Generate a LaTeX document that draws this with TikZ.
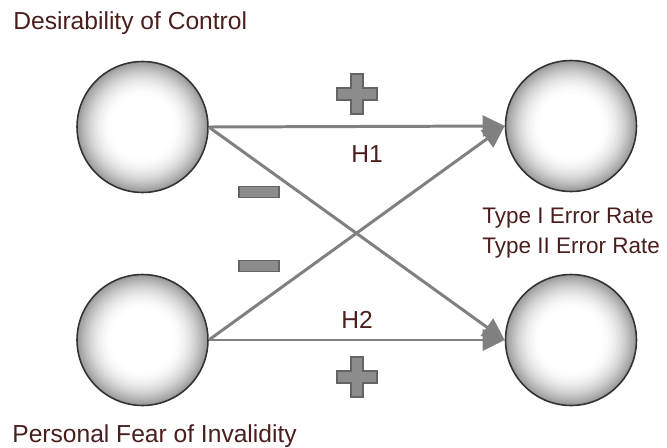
\documentclass[tikz,border=0pt]{standalone}
\usepackage{fontspec}
\setmainfont{Liberation Sans}
\usetikzlibrary{arrows.meta}

\definecolor{labeltext}{RGB}{75,30,30}
\definecolor{linkgray}{RGB}{128,128,128}
\definecolor{signfill}{RGB}{140,140,140}
\definecolor{signedge}{RGB}{100,100,100}

\tikzset{
  construct/.style={circle, draw=black!80, line width=0.9pt,
    minimum size=2.62cm, inner sep=0pt,
    path picture={
      \foreach \t [evaluate=\t as \g using {40*((\t-0.45)/0.55)^2}]
        in {1.0,0.975,...,0.44}
        \fill[black!\g] (path picture bounding box.center) circle (\t*1.31cm);
    }},
  link/.style={draw=linkgray, line width=1.7pt,
    -{Triangle[length=0.44cm,width=0.42cm]}},
  label/.style={text=labeltext, font=\fontsize{14}{16}\selectfont, inner sep=0pt},
  ratelabel/.style={label, font=\fontsize{12.8}{15}\selectfont},
  sign/.style={fill=signfill, draw=signedge, line width=0.6pt}
}

\begin{document}
\begin{tikzpicture}[x=0.02cm, y=-0.02cm]
    \useasboundingbox (0,0) rectangle (667,447);

    \path
    (142.5,127) node[construct] (dc) {}
    (142.5,340) node[construct] (pf) {}
    (571,126) node[construct] (t1) {}
    (571,340) node[construct] (t2) {};

    \draw[link] (dc.east) -- (t1.west);
    \draw[link] (dc.east) -- (t2.west);
    \draw[link] (pf.east) -- (t1.west);
    \draw[link] (pf.east) -- (t2.west);

    % plus and minus signs
    \foreach \y in {94,377}
      \filldraw[sign, shift={(357,\y)}]
      (-6,-20) -- (6,-20) -- (6,-6) -- (20,-6) -- (20,6) -- (6,6)
      -- (6,20) -- (-6,20) -- (-6,6) -- (-20,6) -- (-20,-6) -- (-6,-6) -- cycle;
    \foreach \y in {192,266}
      \filldraw[sign] (239,\y-5.5) rectangle (279,\y+5.5);

    \node[label, anchor=base west] (dctext) at (13,29) {Desirability of Control};
    \node[label, anchor=base west] (pftext) at (12,442) {Personal Fear of Invalidity};
    \node[ratelabel, anchor=base west] (t1text) at (482,223) {Type I Error Rate};
    \node[ratelabel, anchor=base west] (t2text) at (482,253) {Type II Error Rate};
    \node[label, anchor=base] (h1) at (367,162) {H1};
    \node[label, anchor=base] (h2) at (357,328) {H2};
\end{tikzpicture}
\end{document}
